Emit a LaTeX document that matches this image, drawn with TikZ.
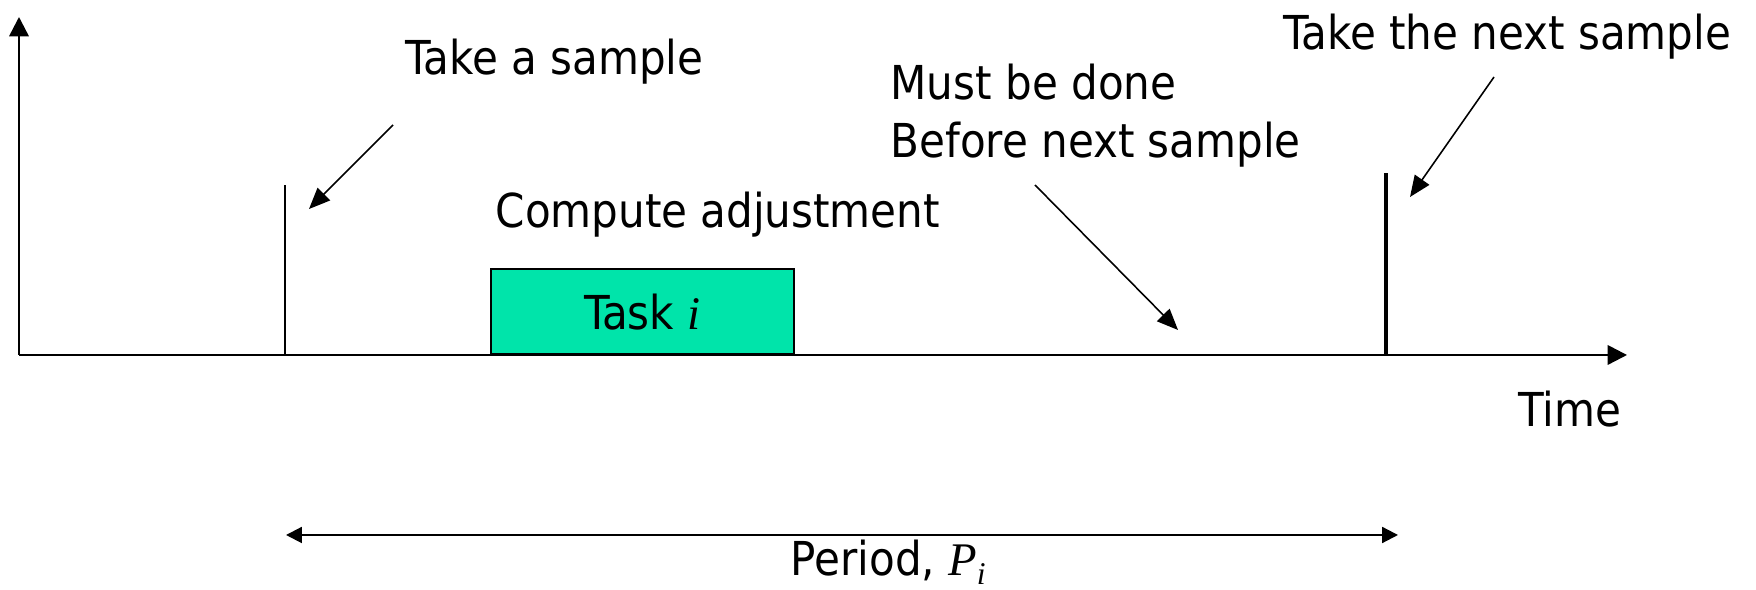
\documentclass[tikz,border=0pt]{standalone}
\usepackage{fontspec}
\setmainfont{DejaVu Sans Condensed}
\newfontfamily\timesfont{Liberation Serif}
\usetikzlibrary{arrows.meta}

\definecolor{taskgreen}{RGB}{0,228,170}

\begin{document}
\begin{tikzpicture}[
    font=\fontsize{13.3}{15}\selectfont,
    axis/.style={line width=0.7pt, -{Triangle[length=5.5pt, width=5.5pt]}},
    callout/.style={line width=0.45pt, -{Triangle[length=6pt, width=5pt]}},
    note/.style={anchor=base west, inner sep=0}]

  \useasboundingbox (0,0) rectangle (17.56,5.90);

  % Define sample instants
  \def\ta{2.85}
  \def\tb{13.86}

  % Axes
  \coordinate (orig) at (0.19,2.35);
  \coordinate (ytop) at (0.19,5.73);
  \coordinate (xend) at (16.27,2.35);
  \draw[axis] (orig) -- (ytop);
  \draw[axis] (orig) -- (xend);
  \node[note] (time) at (15.18,1.63) {Time};

  % Sample ticks
  \coordinate (sa) at (\ta,2.35);
  \coordinate (sb) at (\tb,2.35);
  \draw[line width=0.6pt] (sa) -- ++(0,1.70) coordinate (satop);
  \draw[line width=0.9pt] (sb) -- ++(0,1.82) coordinate (sbtop);

  % Task box
  \node[draw=black, line width=0.5pt, fill=taskgreen, anchor=south west,
    minimum width=3.03cm, minimum height=0.85cm, inner sep=0]
    (task) at (4.90,2.35) {Task {\timesfont\itshape i}};
  \node[note] (compute) at (4.95,3.62) {Compute adjustment};

  % Callouts
  \node[note] (takea) at (4.05,5.15) {Take a sample};
  \node[note] (takenext) at (12.83,5.40) {Take the next sample};
  \node[note] (musta) at (8.90,4.90) {Must be done};
  \node[note] (mustb) at (8.90,4.32) {Before next sample};

  \coordinate (ca) at (3.93,4.65);
  \coordinate (cb) at (14.94,5.13);
  \coordinate (cc) at (10.35,4.05);
  \draw[callout] (ca) -- (3.09,3.81) coordinate (cae);
  \draw[callout] (cb) -- (14.10,3.93) coordinate (cbe);
  \draw[callout] (cc) -- (11.78,2.60) coordinate (cce);

  % Period
  \coordinate (pa) at (2.86,0.55);
  \coordinate (pb) at (13.98,0.55);
  \draw[line width=0.6pt, {Triangle[length=4.5pt, width=4.5pt]}-{Triangle[length=4.5pt, width=4.5pt]}] (pa) -- (pb);
  \node[note] (period) at (7.90,0.14)
    {Period, {\timesfont\itshape P\raisebox{-0.4ex}{\small i}}};

\end{tikzpicture}
\end{document}
